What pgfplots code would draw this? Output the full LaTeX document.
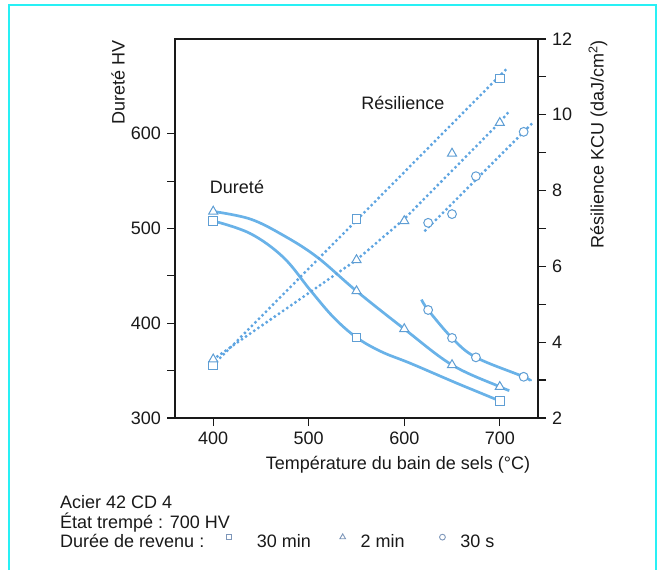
\documentclass[border=0pt]{standalone}
\usepackage{fontspec}
\setmainfont{Liberation Sans}
\usepackage{pgfplots}
\pgfplotsset{compat=1.18}
\definecolor{lb}{RGB}{105,178,232}
\definecolor{ld}{RGB}{95,165,225}
\definecolor{mk}{RGB}{95,158,212}
\definecolor{legc}{RGB}{125,150,185}
\definecolor{txt}{RGB}{25,25,25}
\definecolor{framec}{RGB}{40,240,245}
\newcommand{\fs}{\fontsize{18}{21}\selectfont}
\pgfplotsset{
  base/.style={
    at={(175pt,152pt)}, anchor=south west, scale only axis,
    width=363pt, height=379pt, xmin=360, xmax=740,
    tick align=outside, major tick length=8pt, minor tick length=8pt,
    axis line style={line width=1.3pt, draw=txt},
    every tick/.style={line width=1.2pt, draw=txt},
    ticklabel style={font=\fs, text=txt},
    /pgf/number format/assume math mode=true,
    clip=false,
  },
  hv/.style={lb, line width=2.7pt, smooth, tension=0.6, no marks},
  kc/.style={ld, line width=3.3pt, dash pattern=on 0pt off 5pt, line cap=round, no marks},
  msq/.style={only marks, mark=square*, mark size=4.3pt, mark options={draw=mk, fill=white, line width=1pt, solid}},
  mtr/.style={only marks, mark=triangle*, mark size=5.2pt, mark options={draw=mk, fill=white, line width=1pt, solid}},
  mci/.style={only marks, mark=*, mark size=4.4pt, mark options={draw=mk, fill=white, line width=1pt, solid}},
}
\begin{document}
\fs
\begin{tikzpicture}[x=1pt,y=1pt]
\useasboundingbox (0,0) rectangle (663,570);
\draw[framec, line width=2pt] (9,0) -- (9,565) -- (656,565) -- (656,0);

% ---------- Hardness (left axis) ----------
\begin{axis}[base,
  ymin=300, ymax=700,
  xtick={400,500,600,700}, ytick={300,400,500,600}, minor ytick={350,450,550},
  xtick pos=bottom, ytick pos=left,
  legend columns=3,
  legend style={at={(axis description cs:0.1405,-0.327)}, anchor=west,
    draw=none, fill=none, font=\fs, text=txt, inner sep=0pt,
    nodes={inner sep=0pt},
    /tikz/column 1/.style={column sep=25pt},
    /tikz/column 2/.style={column sep=29pt},
    /tikz/column 3/.style={column sep=15pt},
    /tikz/column 4/.style={column sep=35pt},
    /tikz/column 5/.style={column sep=15pt}},
  legend image code/.code={\draw[#1] plot coordinates {(0pt,5pt)};},
]
\addplot[hv, forget plot] coordinates {(400,508) (438.8,494.7) (473.5,469.5) (501.8,434.7) (525.9,406.3) (550,385) (576,370) (606.7,357.6) (652,338) (676.7,327.7) (700,318)};
\addplot[hv, forget plot] coordinates {(400,518) (438.8,510) (473.7,492.6) (508.8,469.8) (550,434) (600,394) (650,356) (700,333) (710,329)};
\addplot[hv, forget plot] coordinates {(618,425) (625,414) (650,384.5) (675,364) (725,343.5) (732,339)};
\addplot[msq, forget plot] coordinates {(400,508) (550,385) (700,318)};
\addplot[mtr, forget plot] coordinates {(400,518) (550,434) (600,394) (650,356) (700,333)};
\addplot[mci, forget plot] coordinates {(625,414) (650,384.5) (675,364) (725,343.5)};
\addlegendimage{only marks, mark=square, mark size=2.8pt, mark options={draw=legc, line width=0.9pt}}
\addlegendentry{30 min}
\addlegendimage{only marks, mark=triangle, mark size=3.3pt, mark options={draw=legc, line width=0.9pt}}
\addlegendentry{2 min}
\addlegendimage{only marks, mark=o, mark size=2.9pt, mark options={draw=legc, line width=0.9pt}}
\addlegendentry{30 s}
\end{axis}

% ---------- Resilience (right axis) ----------
\begin{axis}[base,
  ymin=2, ymax=12,
  axis x line=none, axis y line*=right,
  ytick={2,4,6,8,10,12}, minor ytick={3,5,7,9,11},
]
\addplot[kc] coordinates {(400,3.4) (709,11.26)};
\addplot[kc] coordinates {(400,3.55) (550,6.17) (600,7.25) (700,9.8) (710,10.1)};
\addplot[kc] coordinates {(622,6.95) (733,9.75)};
\addplot[msq] coordinates {(400,3.38) (550,7.25) (700,10.96)};
\addplot[mtr] coordinates {(400,3.55) (550,6.17) (600,7.2) (650,8.98) (700,9.79)};
\addplot[mci] coordinates {(625,7.15) (650,7.38) (675,8.38) (725,9.55)};
\end{axis}

\node[rotate=90, anchor=east, inner sep=0pt, text=txt] at (118,530) {Dureté HV};
\node[rotate=90, anchor=east, inner sep=0pt, text=txt] at (598,530) {Résilience KCU (daJ/cm\textsuperscript{2})};
\node[inner sep=0pt, text=txt] at (403,467) {Résilience};
\node[inner sep=0pt, text=txt] at (237,383) {Dureté};
\node[inner sep=0pt, text=txt] at (398,105) {Température du bain de sels (°C)};
\node[anchor=base west, inner sep=0pt, text=txt] at (60,62) {Acier 42 CD 4};
\node[anchor=base west, inner sep=0pt, text=txt] at (60,42) {État trempé : 700 HV};
\node[anchor=base west, inner sep=0pt, text=txt] at (60,23) {Durée de revenu :};
\end{tikzpicture}
\end{document}
